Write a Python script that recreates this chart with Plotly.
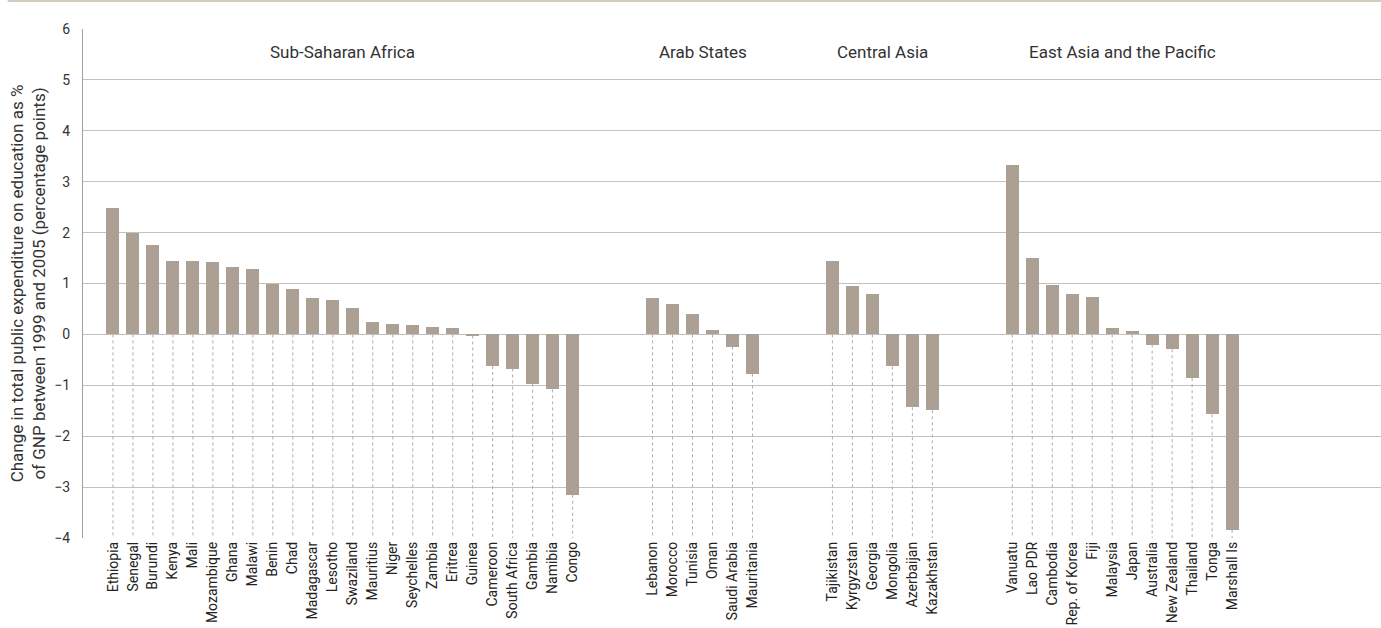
import plotly.graph_objects as go

# ---- data ----
group_names = ["Sub-Saharan Africa", "Arab States", "Central Asia", "East Asia and the Pacific"]

ssa_countries = ["Ethiopia", "Senegal", "Burundi", "Kenya", "Mali", "Mozambique", "Ghana", "Malawi",
                 "Benin", "Chad", "Madagascar", "Lesotho", "Swaziland", "Mauritius", "Niger",
                 "Seychelles", "Zambia", "Eritrea", "Guinea", "Cameroon", "South Africa", "Gambia",
                 "Namibia", "Congo"]
ssa_values = [2.48, 1.99, 1.75, 1.44, 1.44, 1.42, 1.32, 1.28, 0.99, 0.89, 0.71, 0.67, 0.52, 0.24,
              0.20, 0.18, 0.14, 0.12, -0.02, -0.62, -0.67, -0.97, -1.08, -3.15]

arab_countries = ["Lebanon", "Morocco", "Tunisia", "Oman", "Saudi Arabia", "Mauritania"]
arab_values = [0.72, 0.60, 0.41, 0.09, -0.24, -0.77]

ca_countries = ["Tajikistan", "Kyrgyzstan", "Georgia", "Mongolia", "Azerbaijan", "Kazakhstan"]
ca_values = [1.45, 0.96, 0.80, -0.63, -1.43, -1.49]

eap_countries = ["Vanuatu", "Lao PDR", "Cambodia", "Rep. of Korea", "Fiji", "Malaysia", "Japan",
                 "Australia", "New Zealand", "Thailand", "Tonga", "Marshall Is"]
eap_values = [3.33, 1.50, 0.98, 0.80, 0.74, 0.13, 0.07, -0.20, -0.29, -0.86, -1.57, -3.84]

y_ticks = [-4, -3, -2, -1, 0, 1, 2, 3, 4, 5, 6]

# ---- layout helpers ----
FONT = "Roboto, Liberation Sans, Arial, sans-serif"
BAR = "#aca095"
GAP = 3  # empty slots between groups

groups = [(group_names[0], ssa_countries, ssa_values),
          (group_names[1], arab_countries, arab_values),
          (group_names[2], ca_countries, ca_values),
          (group_names[3], eap_countries, eap_values)]

xs, names, vals, centers = [], [], [], []
pos = 0
for gname, cs, vs in groups:
    start = pos
    for c, v in zip(cs, vs):
        xs.append(pos); names.append(c); vals.append(v)
        pos += 1
    centers.append((gname, (start + pos - 1) / 2))
    pos += GAP

ymin, ymax = y_ticks[0], y_ticks[-1]

# dotted drop lines from bar end (or zero) down to axis bottom
lx, ly = [], []
for x, v in zip(xs, vals):
    lx += [x, x, None]
    ly += [min(v, 0), ymin, None]

fig = go.Figure()
fig.add_trace(go.Scatter(x=lx, y=ly, mode="lines",
                         line=dict(color="#acacac", width=1, dash="dot"),
                         hoverinfo="skip", showlegend=False))
fig.add_trace(go.Bar(x=xs, y=vals, width=0.65, marker=dict(color=BAR, line=dict(width=0)),
                     showlegend=False, hovertext=names))

for gname, cx in centers:
    fig.add_annotation(x=cx, y=5.55, text=gname, showarrow=False, xref="x", yref="y",
                       font=dict(family=FONT, size=17, color="#333333"))

fig.add_shape(type="line", xref="paper", yref="paper", x0=-0.058, x1=1, y0=1.055, y1=1.055,
              line=dict(color="#d3cbbe", width=2))

fig.update_layout(
    width=1381, height=628,
    margin=dict(l=83, r=0, t=29, b=90),
    paper_bgcolor="white", plot_bgcolor="white",
    font=dict(family=FONT, color="#333333"),
    bargap=0,
    xaxis=dict(range=[-1.5, pos - GAP + 6.45], tickmode="array", tickvals=xs, ticktext=names,
               tickangle=-90, showgrid=False, zeroline=False, showline=False, ticks="",
               tickfont=dict(family=FONT, size=14, color="#222222")),
    yaxis=dict(range=[ymin, ymax], tickmode="array", tickvals=y_ticks,
               showgrid=True, gridcolor="#c2c2c2", gridwidth=1, zeroline=False,
               showline=True, linecolor="#a0a0a0", linewidth=1, ticks="",
               ticklabelstandoff=9,
               tickfont=dict(family=FONT, size=14, color="#333333"),
               title=dict(text="Change in total public expenditure on education as %<br>of GNP between 1999 and 2005 (percentage points)",
                          font=dict(family=FONT, size=17, color="#333333"), standoff=4)),
)

fig.write_html("out.html", config={"displayModeBar": False},
               post_script="document.body.style.margin='0';document.body.style.overflow='hidden';")
